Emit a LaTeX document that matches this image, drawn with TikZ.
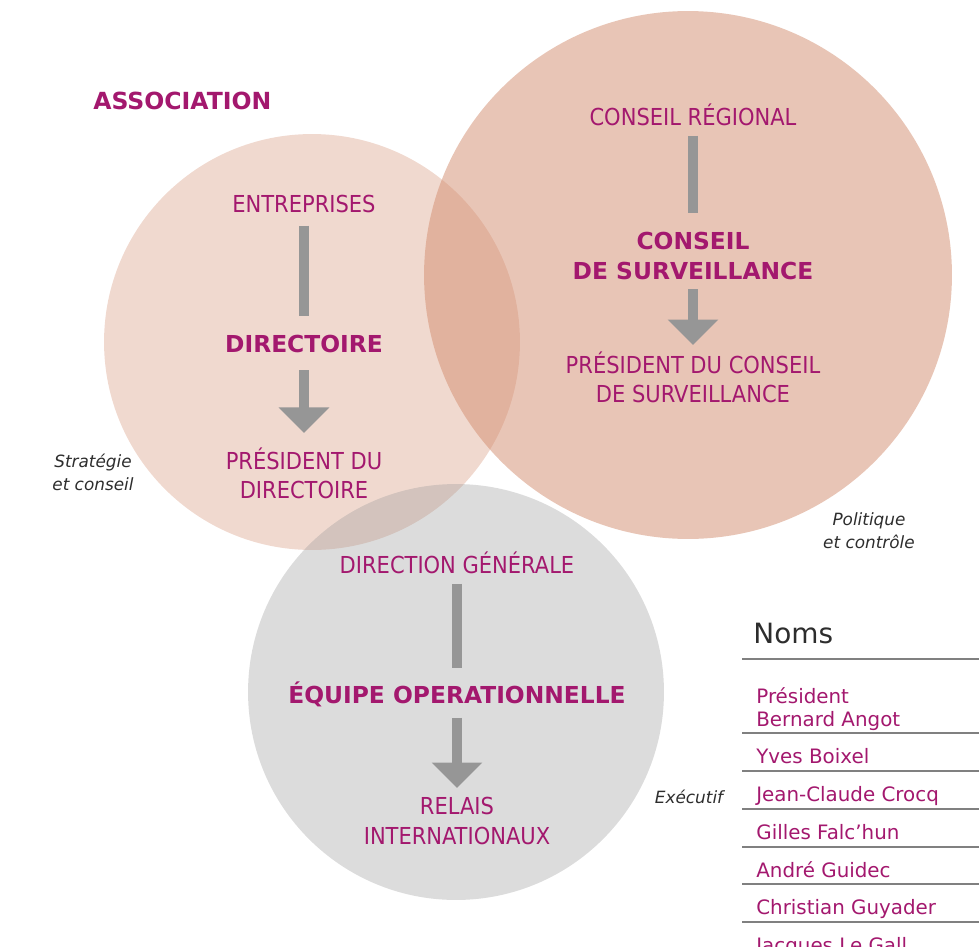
\documentclass[tikz,border=0pt]{standalone}
\usepackage{fontspec}
\setmainfont{DejaVu Sans}
\newfontfamily\condfont{DejaVu Sans Condensed}
\usetikzlibrary{arrows.meta}
\definecolor{plum}{RGB}{163,24,110}
\definecolor{peach}{RGB}{210,140,110}
\definecolor{ash}{RGB}{150,150,150}
\definecolor{ink}{RGB}{45,45,45}

\begin{document}
\begin{tikzpicture}[
                x = 0.02cm, y = -0.02cm,
                lab/.style = {text=plum, inner sep = 0mm, font=\condfont\fontsize{13.3}{17}\selectfont},
                hd/.style = {text=plum, inner sep = 0mm, font=\bfseries\fontsize{13.3}{17}\selectfont},
                note/.style = {text=ink, inner sep = 0mm, align=center, font=\itshape\fontsize{9.6}{13}\selectfont},
                who/.style = {text=plum, inner sep = 0mm, anchor=base west, font=\fontsize{11.3}{13}\selectfont},
                bar/.style = {draw=ash, line width = 5.7pt},
                arr/.style = {draw=ash, line width = 5.7pt, -{Triangle[width=28pt, length=14.5pt]}},
                rule/.style = {draw=gray, line width = 0.8pt},
            ]
            \useasboundingbox (0,0) rectangle (979,946);
            \clip (0,0) rectangle (979,946);

            \fill[peach, fill opacity = 0.33] (312,342) circle [radius=4.16cm];
            \fill[peach, fill opacity = 0.5] (688,275) circle [radius=5.28cm];
            \fill[ash, fill opacity = 0.33] (456,692) circle [radius=4.16cm];

            \node (asso) [hd, anchor=base west, font=\bfseries\fontsize{13.4}{17}\selectfont] at (93,110){ASSOCIATION};

            \node (ent) [lab, anchor=base] at (304,212){ENTREPRISES};
            \node (dir) [hd, anchor=base] at (304,352){DIRECTOIRE};
            \node (pdir) [lab, align=center, anchor=north] at (304,447){PRÉSIDENT DU\\DIRECTOIRE};

            \node (creg) [lab, anchor=base] at (693,125){CONSEIL RÉGIONAL};
            \node (cs) [hd, align=center, anchor=north] at (693,232){CONSEIL\\DE SURVEILLANCE};
            \node (pcs) [lab, align=center, anchor=north] at (693,351){PRÉSIDENT DU CONSEIL\\DE SURVEILLANCE};

            \node (dg) [lab, anchor=base] at (457,573){DIRECTION GÉNÉRALE};
            \node (eq) [hd, anchor=base] at (457,703){ÉQUIPE OPERATIONNELLE};
            \node (ri) [lab, align=center, anchor=north] at (457,797){RELAIS\\INTERNATIONAUX};

            \path[bar, shorten <= 7.4pt, shorten >= 10.5pt] (ent) -- (dir);
            \path[arr, shorten <= 9.9pt, shorten >= 8pt] (dir) -- (pdir);
            \path[bar, shorten <= 5.7pt, shorten >= 10.8pt] (creg) -- (cs);
            \path[arr, shorten <= 5.1pt, shorten >= 3.4pt] (cs) -- (pcs);
            \path[bar, shorten <= 5.7pt, shorten >= 7.4pt] (dg) -- (eq);
            \path[arr, shorten <= 6.2pt, shorten >= 5.1pt] (eq) -- (ri);

            \node (strat) [note, anchor=north] at (93,454){Stratégie\\et conseil};
            \node (polit) [note, anchor=north] at (869,512){Politique\\et contrôle};
            \node (exec) [note, anchor=base] at (689,803){Exécutif};

            \node (noms) [text=ink, inner sep = 0mm, anchor=base west, font=\fontsize{15.9}{19}\selectfont] at (753,643){Noms};
            \draw[rule] (742,659) -- (979,659);
            \draw[rule] (742,733) -- (979,733);
            \draw[rule] (742,771) -- (979,771);
            \draw[rule] (742,809) -- (979,809);
            \draw[rule] (742,847) -- (979,847);
            \draw[rule] (742,884) -- (979,884);
            \draw[rule] (742,922) -- (979,922);

            \node (n1) [who, align=left, anchor=north west] at (756,687){Président\\Bernard Angot};
            \node (n2) [who] at (756,763){Yves Boixel};
            \node (n3) [who] at (756,801){Jean-Claude Crocq};
            \node (n4) [who] at (756,839){Gilles Falc’hun};
            \node (n5) [who] at (756,877){André Guidec};
            \node (n6) [who] at (756,914){Christian Guyader};
            \node (n7) [who] at (756,952){Jacques Le Gall};
        \end{tikzpicture}
\end{document}
